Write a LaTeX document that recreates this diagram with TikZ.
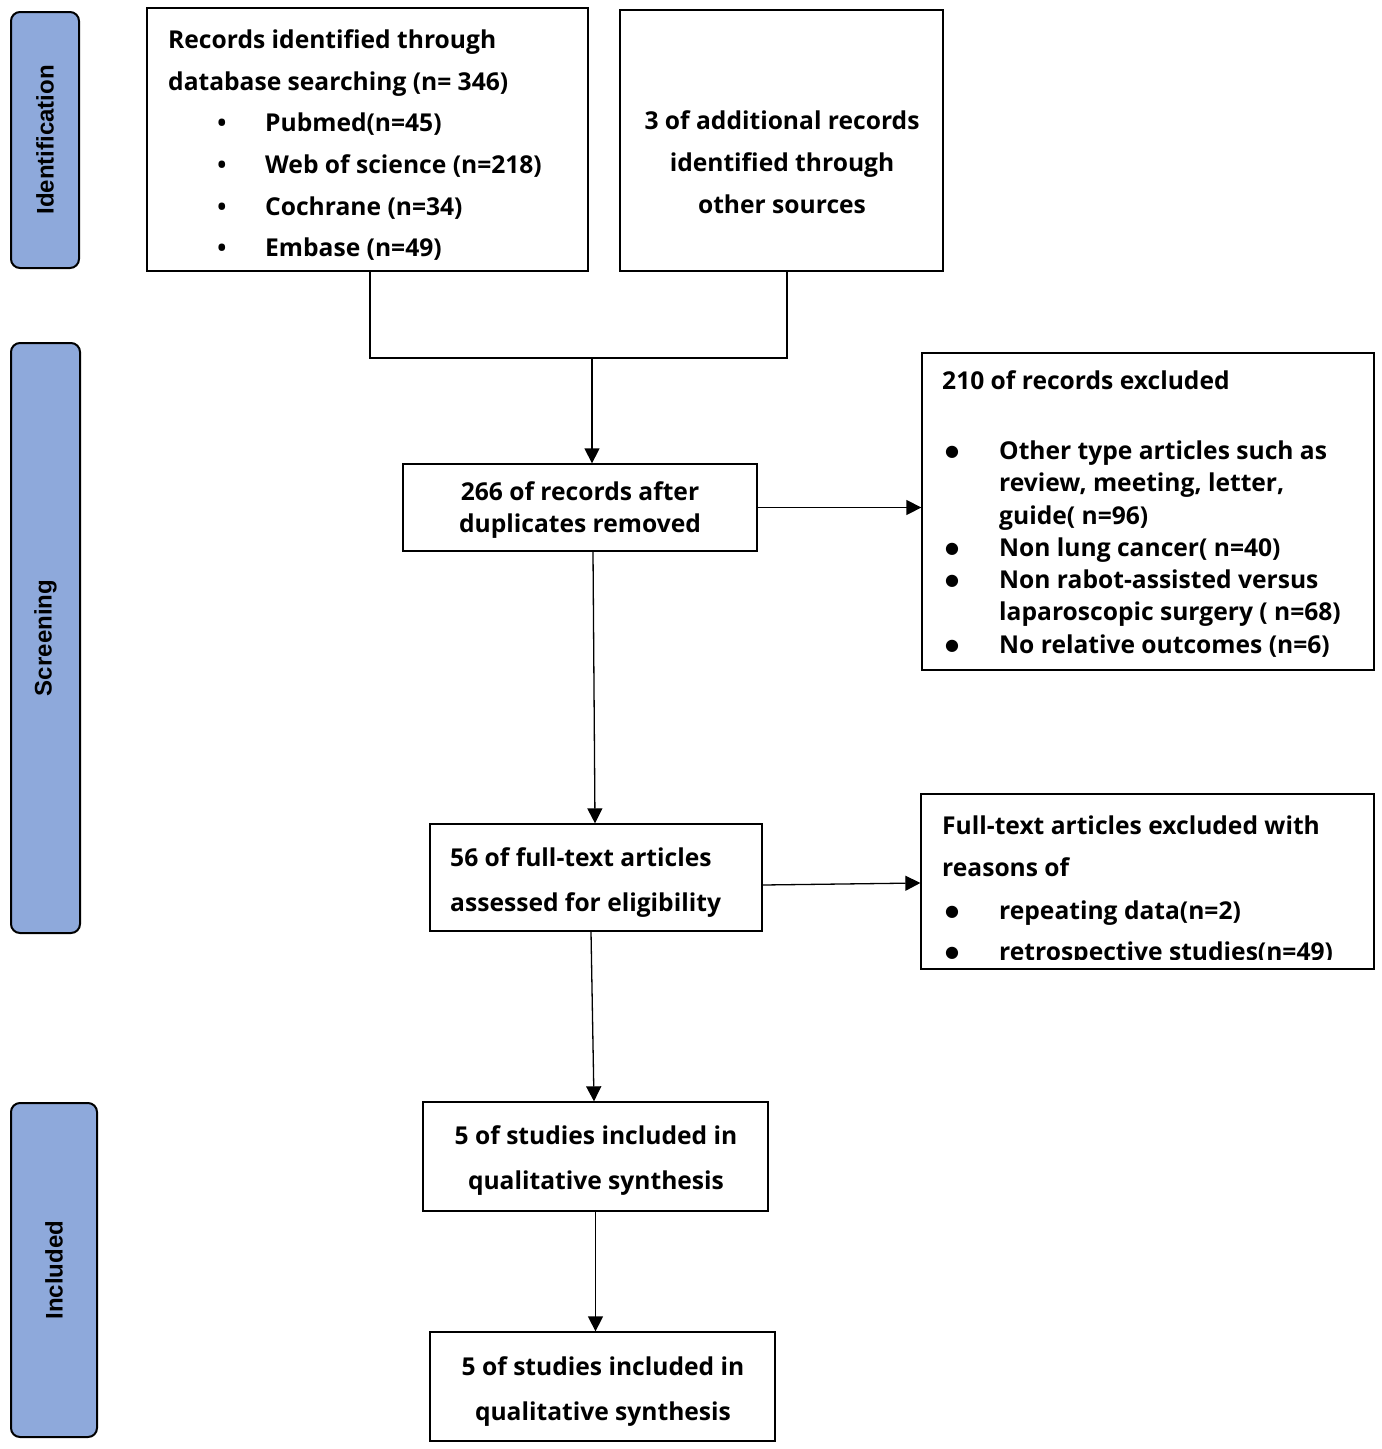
\documentclass[tikz,border=0pt]{standalone}
\usepackage{fontspec}
\setmainfont{Open Sans}
\newfontfamily\stagefont{Liberation Sans}
\newfontfamily\dotfont{DejaVu Sans}
\usetikzlibrary{arrows.meta,calc}
\definecolor{stagefill}{RGB}{142,169,219}
\tikzset{
  box/.style={draw, line width=1.3pt, inner sep=0pt},
  stage/.style={draw, line width=2pt, rounded corners=9pt, fill=stagefill, inner sep=0pt},
  stagetxt/.style={rotate=90, font=\stagefont\bfseries\fontsize{24}{28}\selectfont, inner sep=0pt},
  txt/.style={font=\bfseries\fontsize{24.6}{28}\selectfont, inner sep=0pt, anchor=base west},
  ctxt/.style={font=\bfseries\fontsize{24.6}{28}\selectfont, inner sep=0pt, anchor=base},
  sdot/.style={font=\bfseries\fontsize{24}{28}\selectfont, inner sep=0pt, anchor=base},
  bdot/.style={font=\dotfont\fontsize{16}{20}\selectfont, inner sep=0pt, anchor=base},
  arr/.style={line width=1.3pt, -{Triangle[length=15pt,width=15pt]}},
  conn/.style={line width=1.3pt}
}
\begin{document}
\begin{tikzpicture}[x=1pt,y=-1pt]
\useasboundingbox (0,0) rectangle (1382,1449);
% stages
\node[stage, minimum width=68pt, minimum height=256pt] (s1) at (45,140) {};
\node[stagetxt] (s1t) at (s1.center) {Identification};
\node[stage, minimum width=69pt, minimum height=590pt] (s2) at (45.5,638) {};
\node[stagetxt] (s2t) at (s2.center) {Screening};
\node[stage, minimum width=86pt, minimum height=334pt] (s3) at (54,1270) {};
\node[stagetxt] (s3t) at (s3.center) {Included};
% boxes
\node[box, minimum width=441pt, minimum height=263pt] (b1) at (367.5,139.5) {};
\node[box, minimum width=323pt, minimum height=261pt] (b2) at (781.5,140.5) {};
\node[box, minimum width=354pt, minimum height=87pt] (b3) at (580,507.5) {};
\node[box, minimum width=452pt, minimum height=317pt] (b4) at (1148,511.5) {};
\node[box, minimum width=332pt, minimum height=107pt] (b5) at (596,877.5) {};
\node[box, minimum width=453pt, minimum height=175pt] (b6) at (1147.5,881.5) {};
\node[box, minimum width=345pt, minimum height=109pt] (b7) at (595.5,1156.5) {};
\node[box, minimum width=345pt, minimum height=109pt] (b8) at (602.5,1386.5) {};
% box1 text
\node[txt] (b1a) at (168,48) {Records identified through};
\node[txt] (b1b) at (168,90) {database searching (n= 346)};
\node[sdot] (b1d1) at (222,131) {•};
\node[sdot] (b1d2) at (222,173) {•};
\node[sdot] (b1d3) at (222,215) {•};
\node[sdot] (b1d4) at (222,256) {•};
\node[txt] (b1c) at (265,131) {Pubmed(n=45)};
\node[txt] (b1e) at (265,173) {Web of science (n=218)};
\node[txt] (b1f) at (265,215) {Cochrane (n=34)};
\node[txt] (b1g) at (265,256) {Embase (n=49)};
% box2 text
\node[ctxt] (b2a) at (782,129) {3 of additional records};
\node[ctxt] (b2b) at (782,171) {identified through};
\node[ctxt] (b2c) at (782,213) {other sources};
% box3 text
\node[ctxt] (b3a) at (580,500) {266 of records after};
\node[ctxt] (b3b) at (580,532) {duplicates removed};
% box4 text
\node[txt] (b4a) at (942,389) {210 of records excluded};
\node[bdot] (b4d1) at (952,456) {●};
\node[bdot] (b4d2) at (952,553) {●};
\node[bdot] (b4d3) at (952,585) {●};
\node[bdot] (b4d4) at (952,650) {●};
\node[txt] (b4b) at (999,459) {Other type articles such as};
\node[txt] (b4c) at (999,491) {review, meeting, letter,};
\node[txt] (b4e) at (999,524) {guide( n=96)};
\node[txt] (b4f) at (999,556) {Non lung cancer( n=40)};
\node[txt] (b4g) at (999,588) {Non rabot-assisted versus};
\node[txt] (b4h) at (999,620) {laparoscopic surgery ( n=68)};
\node[txt] (b4i) at (999,653) {No relative outcomes (n=6)};
% box5 text
\node[txt] (b5a) at (450,866) {56 of full-text articles};
\node[txt] (b5b) at (450,911) {assessed for eligibility};
% box6 text
\node[txt] (b6a) at (942,834) {Full-text articles excluded with};
\node[txt] (b6b) at (942,876) {reasons of};
\node[bdot] (b6d1) at (952,916) {●};
\node[txt] (b6c) at (999,919) {repeating data(n=2)};
\begin{scope}
\clip (922,930) rectangle (1373,959);
\node[bdot] (b6d2) at (952,957) {●};
\node[txt] (b6e) at (999,960) {retrospective studies(n=49)};
\end{scope}
% box7, box8 text
\node[ctxt] (b7a) at (596,1144) {5 of studies included in};
\node[ctxt] (b7b) at (596,1189) {qualitative synthesis};
\node[ctxt] (b8a) at (603,1375) {5 of studies included in};
\node[ctxt] (b8b) at (603,1420) {qualitative synthesis};
% connectors
\coordinate (m1) at (370,358);
\coordinate (m2) at (787,358);
\coordinate (mj) at (592,358);
\draw[conn] (b1.south -| m1) -- (m1) -- (m2) -- (b2.south -| m2);
\draw[arr] (mj) -- (mj |- b3.north);
\draw[arr] (b3.east) -- (b3.east -| b4.west);
\draw[arr] ([xshift=13pt]b3.south) -- ([xshift=-1pt]b5.north);
\draw[arr] ([yshift=-7.5pt]b5.east) -- ([yshift=-1.5pt]b6.west);
\draw[arr] ([xshift=-5pt]b5.south) -- ([xshift=-1.5pt]b7.north);
\draw[arr] (b7.south) -- (b7.south |- b8.north);
\end{tikzpicture}
\end{document}
